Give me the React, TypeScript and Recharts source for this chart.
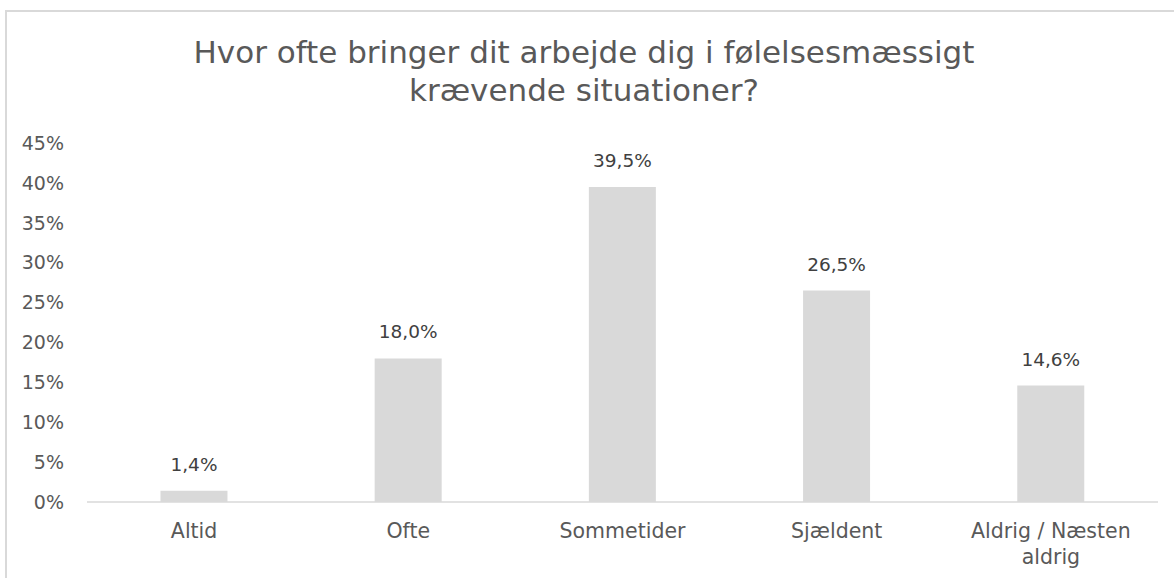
import React from "react";
import { BarChart, Bar, XAxis, YAxis, LabelList } from "recharts";

const categories = ["Altid", "Ofte", "Sommetider", "Sjældent", "Aldrig / Næsten aldrig"];
const values = [1.4, 18.0, 39.5, 26.5, 14.6];
const yTicks = [0, 5, 10, 15, 20, 25, 30, 35, 40, 45];
const titleLines = ["Hvor ofte bringer dit arbejde dig i følelsesmæssigt", "krævende situationer?"];

const data = categories.map((c, i) => ({ name: c, value: values[i] }));

const FONT = "'DejaVu Sans', Verdana, sans-serif";
const TEXT = "#595959";

const wrap = (s: string, maxChars: number) => {
  const words = s.split(" ");
  const lines: string[] = [];
  let cur = "";
  words.forEach((w) => {
    const next = cur ? cur + " " + w : w;
    if (next.length > maxChars && cur) {
      lines.push(cur);
      cur = w;
    } else {
      cur = next;
    }
  });
  if (cur) lines.push(cur);
  return lines;
};

const CategoryTick = (props: any) => {
  const { x, y, payload } = props;
  const lines = wrap(String(payload.value), 16);
  return (
    <text
      x={x}
      y={y}
      textAnchor="middle"
      fill={TEXT}
      style={{ fontFamily: FONT, fontSize: 20.5 }}
    >
      {lines.map((l, i) => (
        <tspan key={i} x={x} dy={i === 0 ? 15 : 25.5}>
          {l}
        </tspan>
      ))}
    </text>
  );
};

export default function App() {
  return (
    <div style={{ position: "absolute", left: 0, top: 0, width: 1174, height: 578, overflow: "hidden", background: "#fff" }}>
      <div
        style={{
          position: "absolute",
          left: 5,
          top: 10,
          width: 1300,
          height: 700,
          border: "2px solid #d9d9d9",
          boxSizing: "border-box",
        }}
      />
      <div style={{ position: "absolute", left: 0, top: 0 }}>
        <BarChart
          width={1174}
          height={578}
          data={data}
          margin={{ top: 143, right: 16, bottom: 16, left: 0 }}
          barCategoryGap="34.3%"
        >
          <text
            x={584}
            y={63}
            textAnchor="middle"
            fill={TEXT}
            style={{ fontFamily: FONT, fontSize: 31 }}
          >
            {titleLines[0]}
          </text>
          <text
            x={584}
            y={101}
            textAnchor="middle"
            fill={TEXT}
            style={{ fontFamily: FONT, fontSize: 31 }}
          >
            {titleLines[1]}
          </text>
          <XAxis
            dataKey="name"
            height={60}
            axisLine={{ stroke: "#d9d9d9", strokeWidth: 1.5 }}
            tickLine={false}
            tickSize={0}
            tickMargin={21}
            interval={0}
            tick={<CategoryTick />}
          />
          <YAxis
            width={87}
            domain={[0, 45]}
            ticks={yTicks}
            axisLine={false}
            tickLine={false}
            tickSize={0}
            tickMargin={23}
            tickFormatter={(v: number) => `${v}%`}
            tick={{ fill: TEXT, fontSize: 19, fontFamily: FONT }}
          />
          <Bar dataKey="value" fill="#d9d9d9" isAnimationActive={false}>
            <LabelList
              dataKey="value"
              position="top"
              offset={20}
              formatter={(v: number) => `${v.toFixed(1).replace(".", ",")}%`}
              style={{ fill: "#404040", fontSize: 18.5, fontFamily: FONT }}
            />
          </Bar>
        </BarChart>
      </div>
    </div>
  );
}
